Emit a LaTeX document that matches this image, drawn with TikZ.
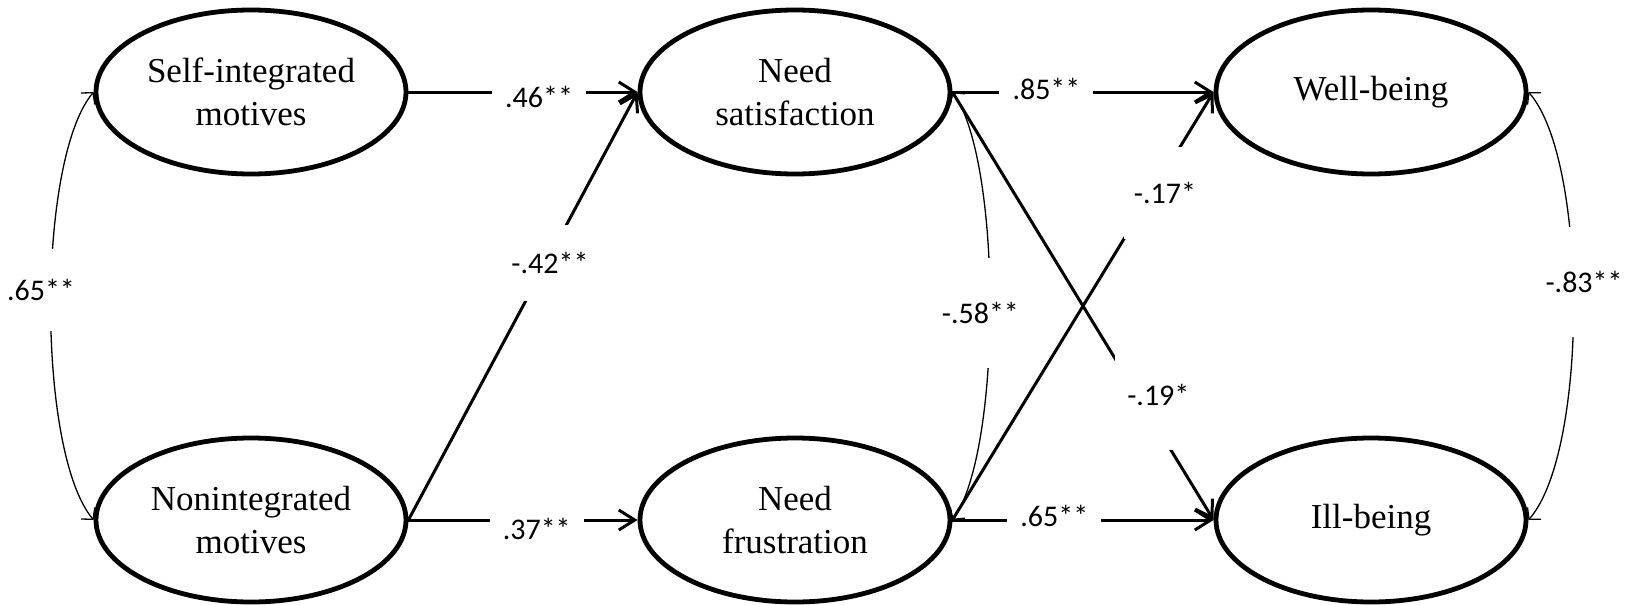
\documentclass[tikz,border=0pt]{standalone}
\usepackage{fontspec}
\setmainfont{Liberation Serif}
\newfontfamily\coeffont{Carlito}
\usetikzlibrary{arrows.meta, shapes.geometric}

\begin{document}
\begin{tikzpicture}[x=0.5pt, y=-0.5pt,
  latent/.style={draw, ellipse, line width=2.4pt, minimum width=155pt, minimum height=82pt,
    inner sep=0pt, align=center, font=\fontsize{17.5}{21.5}\selectfont},
  effect/.style={line width=1.5pt, -{Straight Barb[length=8pt, width=10pt]}},
  corr/.style={line width=0.65pt, {Straight Barb[length=4pt, width=9pt]}-{Straight Barb[length=4pt, width=9pt]}},
  coef/.style={fill=white, inner sep=2pt, font=\coeffont\fontsize{15}{18}\selectfont}]
\useasboundingbox (0,0) rectangle (1629,605);

% latent variables
\node[latent] (si) at (251,92) {Self-integrated\\motives};
\node[latent] (ni) at (251,520) {Nonintegrated\\motives};
\node[latent] (ns) at (795,92) {Need\\satisfaction};
\node[latent] (nf) at (795,520) {Need\\frustration};
\node[latent] (wb) at (1371,92) {Well-being};
\node[latent] (ib) at (1371,520) {Ill-being};

% structural paths
\draw[effect] (si) -- node[coef, pos=0.57, minimum width=47pt, yshift=-2.5pt] {.46**} (ns);
\draw[effect] (ni.east) -- node[coef, pos=0.6, xshift=2pt, minimum height=38pt] {-.42**} (ns.west);
\draw[effect] (ni) -- node[coef, pos=0.56, minimum width=47pt, yshift=-4.5pt] {.37**} (nf);
\draw[effect] (ns) -- node[coef, pos=0.36, minimum width=47pt, yshift=1.5pt] {.85**} (wb);
\draw[effect] (nf) -- node[coef, pos=0.39, minimum width=47pt, yshift=2pt] {.65**} (ib);
\draw[effect] (ns.east) -- node[coef, pos=0.708, xshift=10.5pt, minimum width=43pt, minimum height=55pt] {-.19*} (ib.west);
\draw[effect] (nf.east) -- node[coef, pos=0.764, xshift=6.5pt, minimum width=41pt, minimum height=46pt] {-.17*} (wb.west);

% correlations
\draw[corr] (si.west) .. controls +(-57,68) and +(-57,-68) .. node[coef, pos=0.47, xshift=-5pt, minimum height=41pt] {.65**} (ni.west);
\draw[corr] (ns.east) .. controls +(50,68) and +(50,-68) .. node[coef, pos=0.513, xshift=-4.75pt, minimum height=55pt] {-.58**} (nf.east);
\draw[corr] (wb.east) .. controls +(60,68) and +(60,-68) .. node[coef, pos=0.456, xshift=5.5pt, minimum height=55pt] {-.83**} (ib.east);
\end{tikzpicture}
\end{document}
